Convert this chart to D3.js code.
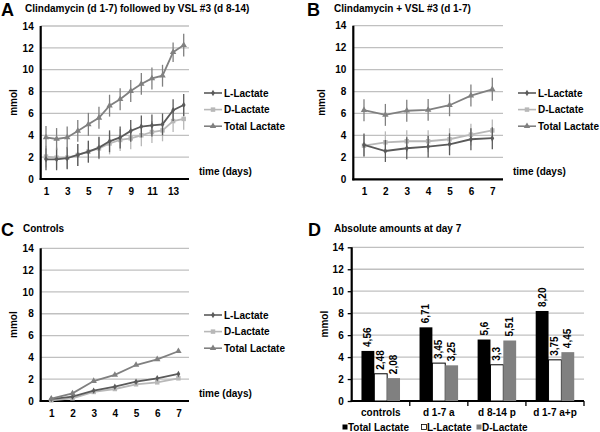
<!DOCTYPE html>
<html>
<head>
<meta charset="utf-8">
<script src="https://cdn.jsdelivr.net/npm/d3@7"></script>
<style>
  html, body { margin: 0; padding: 0; background: #fff; }
  svg { display: block; font-family: "Liberation Sans", Arial, sans-serif; }
  text { font-weight: bold; }
</style>
</head>
<body>
<svg id="chart" width="600" height="432"></svg>
<script>
// ---------------- DATA ----------------
const seriesNames = ["L-Lactate", "D-Lactate", "Total Lactate"];
const yTicks = [0, 2, 4, 6, 8, 10, 12, 14];

// Panel A: Clindamycin (d 1-7) followed by VSL #3 (d 8-14)
const daysA = [1, 2, 3, 4, 5, 6, 7, 8, 9, 10, 11, 12, 13, 14];
const daysALabels = [1, 3, 5, 7, 9, 11, 13];
const A_L = [1.8, 1.8, 1.9, 2.2, 2.5, 2.87, 3.45, 3.8, 4.4, 4.8, 4.9, 5.0, 6.3, 6.77];
const A_D = [2.05, 1.95, 1.95, 2.2, 2.5, 2.8, 3.25, 3.57, 3.72, 4.0, 4.3, 4.45, 5.3, 5.5];
const A_T = [3.8, 3.66, 3.8, 4.4, 5.0, 5.6, 6.71, 7.3, 8.05, 8.7, 9.2, 9.45, 11.6, 12.25];
const A_L_err = [1.0, 1.0, 1.0, 1.0, 1.0, 1.0, 1.0, 1.0, 1.0, 1.0, 1.0, 1.0, 1.0, 1.0];
const A_D_err = [1.0, 1.0, 1.0, 1.0, 1.0, 1.0, 1.0, 1.0, 1.0, 1.0, 1.0, 1.0, 1.0, 1.0];
const A_T_err = [1.05, 1.0, 1.0, 1.0, 1.05, 1.0, 1.0, 1.0, 1.0, 1.0, 1.0, 1.0, 0.9, 1.05];

// Panel B: Clindamycin + VSL #3 (d 1-7)
const daysB = [1, 2, 3, 4, 5, 6, 7];
const B_L = [3.13, 2.58, 2.83, 2.98, 3.19, 3.65, 3.75];
const B_D = [3.07, 3.37, 3.47, 3.47, 3.65, 4.07, 4.45];
const B_T = [6.3, 5.87, 6.25, 6.33, 6.75, 7.63, 8.2];
const B_L_err = [1.05, 1.0, 1.0, 1.0, 1.0, 1.0, 1.0];
const B_D_err = [1.0, 1.0, 1.0, 1.0, 1.0, 1.0, 1.0];
const B_T_err = [1.0, 1.0, 1.0, 1.0, 1.0, 1.0, 1.05];

// Panel C: Controls
const daysC = [1, 2, 3, 4, 5, 6, 7];
const C_L = [0.18, 0.4, 0.95, 1.31, 1.77, 2.08, 2.48];
const C_D = [0.06, 0.25, 0.83, 1.1, 1.53, 1.71, 2.08];
const C_T = [0.21, 0.7, 1.83, 2.39, 3.3, 3.82, 4.56];

// Panel D: Absolute amounts at day 7
const groupsD = ["controls", "d 1-7 a", "d 8-14 p", "d 1-7 a+p"];
const barSeries = ["Total Lactate", "L-Lactate", "D-Lactate"];
const D_T = [4.56, 6.71, 5.6, 8.2];
const D_L = [2.48, 3.45, 3.3, 3.75];
const D_D = [2.08, 3.25, 5.51, 4.45];
const D_T_lbl = ["4,56", "6,71", "5,6", "8,20"];
const D_L_lbl = ["2,48", "3,45", "3,3", "3,75"];
const D_D_lbl = ["2,08", "3,25", "5,51", "4,45"];

// ---------------- STYLE ----------------
const lineColor = { "L-Lactate": "#5a5a5a", "D-Lactate": "#b8b8b8", "Total Lactate": "#808080" };
const barFill = { "Total Lactate": "#000000", "L-Lactate": "#ffffff", "D-Lactate": "#808080" };
const gridColor = "#c0c0c0";

const svg = d3.select("#chart");

function panelHeader(letter, lx, title, tx, y) {
  svg.append("text").attr("x", lx).attr("y", y + 4).attr("font-size", 18).text(letter);
  svg.append("text").attr("x", tx).attr("y", y).attr("font-size", 10).text(title);
}

function yFrame(x0, x1, y, labelX, ticksOut) {
  svg.append("g").selectAll("line").data(yTicks.filter(d => d > 0)).join("line")
    .attr("x1", x0).attr("x2", x1).attr("y1", d => y(d)).attr("y2", d => y(d))
    .attr("stroke", gridColor).attr("stroke-width", 1.3);
  const ax = d3.axisLeft(y).tickValues(yTicks).tickSize(ticksOut ? 4 : 0).tickPadding(ticksOut ? 4 : 7);
  const g = svg.append("g").attr("transform", `translate(${x0},0)`).call(ax);
  g.select(".domain").remove();
  g.selectAll(".tick line").attr("stroke", "#000").attr("stroke-width", 1.3);
  g.selectAll("text").attr("font-size", 10).attr("font-weight", "bold").attr("fill", "#000")
    .attr("font-family", "Liberation Sans, Arial, sans-serif");
  svg.append("line").attr("x1", x0).attr("x2", x0).attr("y1", y(14)).attr("y2", y(0) + 1)
    .attr("stroke", "#000").attr("stroke-width", 2.2);
  svg.append("line").attr("x1", x0 - 1).attr("x2", x1).attr("y1", y(0)).attr("y2", y(0))
    .attr("stroke", "#000").attr("stroke-width", 2.2);
  const cy = (y(14) + y(0)) / 2;
  svg.append("text").attr("transform", `translate(${labelX},${cy}) rotate(-90)`)
    .attr("text-anchor", "middle").attr("dy", "0.35em").attr("font-size", 10).text("mmol");
}

const symbolFor = {
  "L-Lactate": d3.symbol().type(d3.symbolDiamond).size(12),
  "D-Lactate": d3.symbol().type(d3.symbolSquare).size(20),
  "Total Lactate": d3.symbol().type(d3.symbolTriangle).size(18)
};

function linePanel(cfg) {
  const y = d3.scaleLinear().domain([0, 14]).range([cfg.yb, cfg.yt]);
  const x = d3.scalePoint().domain(cfg.days).range([cfg.x0, cfg.x1]).padding(0.5);
  yFrame(cfg.x0, cfg.x1, y, cfg.mmolX, false);
  const xa = d3.axisBottom(x).tickValues(cfg.xLabels).tickSize(0).tickPadding(9);
  const gx = svg.append("g").attr("transform", `translate(0,${y(0)})`).call(xa);
  gx.select(".domain").remove();
  gx.selectAll("text").attr("font-size", 10).attr("font-weight", "bold").attr("fill", "#000")
    .attr("font-family", "Liberation Sans, Arial, sans-serif");
  svg.append("text").attr("x", cfg.timeX).attr("y", cfg.timeY).attr("font-size", 10).text("time (days)");

  const line = d3.line().x(d => x(d.day)).y(d => y(d.v));
  const order = [1, 0, 2];
  order.forEach(i => {
    const name = seriesNames[i];
    const vals = cfg.series[i];
    const errs = cfg.errs ? cfg.errs[i] : null;
    const pts = cfg.days.map((d, j) => ({ day: d, v: vals[j], e: errs ? errs[j] : 0 }));
    const col = lineColor[name];
    if (errs) {
      svg.append("g").selectAll("line").data(pts).join("line")
        .attr("x1", d => x(d.day)).attr("x2", d => x(d.day))
        .attr("y1", d => y(d.v - d.e)).attr("y2", d => y(d.v + d.e))
        .attr("stroke", col).attr("stroke-width", 1.3);
    }
    svg.append("path").datum(pts).attr("d", line).attr("fill", "none")
      .attr("stroke", col).attr("stroke-width", 1.8);
    svg.append("g").selectAll("path").data(pts).join("path")
      .attr("transform", d => `translate(${x(d.day)},${y(d.v)})`)
      .attr("d", symbolFor[name]()).attr("fill", col);
  });
  seriesNames.forEach((name, i) => {
    const ly = cfg.legY + i * 16.6;
    const col = lineColor[name];
    svg.append("line").attr("x1", cfg.legX).attr("x2", cfg.legX + 18).attr("y1", ly).attr("y2", ly)
      .attr("stroke", col).attr("stroke-width", 1.6);
    svg.append("path").attr("transform", `translate(${cfg.legX + 9},${ly})`)
      .attr("d", symbolFor[name]()).attr("fill", col);
    svg.append("text").attr("x", cfg.legX + 20).attr("y", ly).attr("dy", "0.36em")
      .attr("font-size", 10).text(name);
  });
}

panelHeader("A", 1, "Clindamycin (d 1-7) followed by VSL #3 (d 8-14)", 25, 12);
linePanel({
  days: daysA, xLabels: daysALabels, series: [A_L, A_D, A_T], errs: [A_L_err, A_D_err, A_T_err],
  x0: 40.7, x1: 189, yt: 26, yb: 179, mmolX: 13, timeX: 199, timeY: 175, legX: 204, legY: 93
});

panelHeader("B", 307, "Clindamycin + VSL #3 (d 1-7)", 334, 12);
linePanel({
  days: daysB, xLabels: daysB, series: [B_L, B_D, B_T], errs: [B_L_err, B_D_err, B_T_err],
  x0: 353.3, x1: 503, yt: 25.7, yb: 179.3, mmolX: 321, timeX: 513, timeY: 175, legX: 518, legY: 93
});

panelHeader("C", 1, "Controls", 23, 232);
linePanel({
  days: daysC, xLabels: daysC, series: [C_L, C_D, C_T], errs: null,
  x0: 40.7, x1: 189, yt: 248.3, yb: 401, mmolX: 13, timeX: 199, timeY: 397, legX: 204, legY: 315
});

panelHeader("D", 308, "Absolute amounts at day 7", 334, 232);
(function () {
  const x0 = 351.7, x1 = 584, yt = 247.3, yb = 401;
  const y = d3.scaleLinear().domain([0, 14]).range([yb, yt]);
  yFrame(x0, x1, y, 324, true);
  const gx = d3.scaleBand().domain(groupsD).range([x0, x1]).paddingInner(0).paddingOuter(0);
  const bx = d3.scaleBand().domain(barSeries).range([0, gx.bandwidth()]).paddingInner(0).paddingOuter(0.76);
  svg.append("g").selectAll("line").data(groupsD.slice(1).concat(["__end"])).join("line")
    .attr("x1", (d, i) => i < groupsD.length - 1 ? gx(d) : x1)
    .attr("x2", (d, i) => i < groupsD.length - 1 ? gx(d) : x1)
    .attr("y1", yb).attr("y2", yb + 5).attr("stroke", "#000").attr("stroke-width", 1.3);
  const vals = { "Total Lactate": D_T, "L-Lactate": D_L, "D-Lactate": D_D };
  const lbls = { "Total Lactate": D_T_lbl, "L-Lactate": D_L_lbl, "D-Lactate": D_D_lbl };
  const bars = [];
  groupsD.forEach((g, i) => barSeries.forEach(s => bars.push({ g, s, v: vals[s][i], l: lbls[s][i] })));
  svg.append("g").selectAll("rect").data(bars).join("rect")
    .attr("x", d => gx(d.g) + bx(d.s)).attr("width", bx.bandwidth())
    .attr("y", d => y(d.v)).attr("height", d => y(0) - y(d.v))
    .attr("fill", d => barFill[d.s]).attr("stroke", d => d.s === "L-Lactate" ? "#000" : "none")
    .attr("stroke-width", 1);
  svg.append("g").selectAll("text").data(bars).join("text")
    .attr("transform", d => `translate(${gx(d.g) + bx(d.s) + bx.bandwidth() / 2},${y(d.v) - 4}) rotate(-90)`)
    .attr("dy", "0.35em").attr("font-size", 10).attr("font-weight", "normal").text(d => d.l);
  const xa = d3.axisBottom(gx).tickSize(0).tickPadding(8);
  const g = svg.append("g").attr("transform", `translate(0,${yb})`).call(xa);
  g.select(".domain").remove();
  g.selectAll("text").attr("font-size", 10).attr("font-weight", "bold").attr("fill", "#000")
    .attr("font-family", "Liberation Sans, Arial, sans-serif");
  const legX = [342.5, 421.5, 476.5];
  barSeries.forEach((s, i) => {
    svg.append("rect").attr("x", legX[i]).attr("y", 424.5).attr("width", 5).attr("height", 5)
      .attr("fill", barFill[s]).attr("stroke", s === "L-Lactate" ? "#000" : "none").attr("stroke-width", 0.8);
    svg.append("text").attr("x", legX[i] + 5.5).attr("y", 427).attr("dy", "0.36em")
      .attr("font-size", 10).text(s);
  });
})();
</script>
</body>
</html>
